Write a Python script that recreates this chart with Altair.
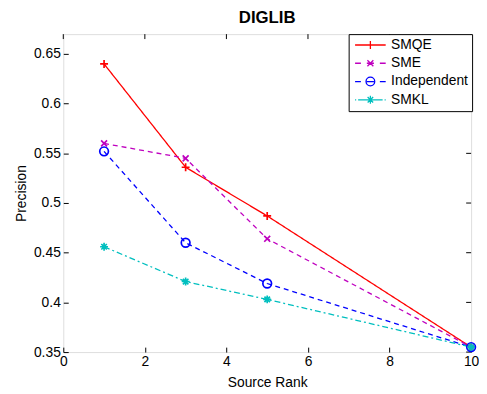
import altair as alt
import pandas as pd

ranks = [1, 3, 5, 10]
series_names = ["SMQE", "SME", "Independent", "SMKL"]
smqe = [0.640, 0.536, 0.487, 0.355]
sme = [0.560, 0.545, 0.464, 0.355]
independent = [0.552, 0.460, 0.419, 0.355]
smkl = [0.456, 0.421, 0.403, 0.355]
x_ticks = [0, 2, 4, 6, 8, 10]
y_ticks = [0.35, 0.4, 0.45, 0.5, 0.55, 0.6, 0.65]

colors = ["#FF0000", "#BF00BF", "#0000FF", "#00BFBF"]
dashes = [[1, 0], [5, 4], [5, 4], [6, 3, 2, 3]]

# marker glyphs (unit coordinates, scaled by the symbol size)
PLUS = "M-1,0H1M0,-1V1"
XMARK = "M-0.75,-0.75L0.75,0.75M-0.75,0.75L0.75,-0.75"
CIRC = "M1.1,0A1.1,1.1 0 1,1 -1.1,0A1.1,1.1 0 1,1 1.1,0Z"
STAR = "M-1,0H1M0,-1V1M-0.7,-0.7L0.7,0.7M-0.7,0.7L0.7,-0.7"
shapes = [PLUS, XMARK, CIRC, STAR]

# legend glyphs: line sample (solid / dashed / dash-dot) with the marker
L = 3.875
legend_glyphs = [
    f"M-{L},0H{L}" + PLUS,
    f"M-{L},0H-2.4M-0.9,0H0.9M2.4,0H{L}" + XMARK,
    f"M-{L},0H-2.4M-0.9,0H0.9M2.4,0H{L}" + CIRC,
    f"M-{L},0H-3.6M-3.1,0H-1.0M1.0,0H3.1M3.6,0H{L}" + STAR,
]

rows = []
for name, vals in zip(series_names, [smqe, sme, independent, smkl]):
    for r, v in zip(ranks, vals):
        rows.append({"rank": r, "precision": v, "series": name, "entry": name})
df = pd.DataFrame(rows)

W, H = 413, 322
font = "Liberation Sans"
FS = 14

xscale = alt.Scale(domain=[0, 10], nice=False, zero=False)
yscale = alt.Scale(domain=[0.35, 0.67], nice=False, zero=False)

x_axis = alt.Axis(values=x_ticks, title="Source Rank", grid=False, domain=False,
                  tickSize=5, offset=-5, labelPadding=3, tickColor="black",
                  labelColor="black", titleColor="black", labelFont=font, titleFont=font,
                  labelFontSize=FS, titleFontSize=FS, titleFontWeight="normal",
                  titlePadding=7, labelFlush=False, format="d")
y_axis = alt.Axis(values=y_ticks, title="Precision", grid=False, domain=False,
                  tickSize=5, offset=-5, labelPadding=3, tickColor="black",
                  labelColor="black", titleColor="black", labelFont=font, titleFont=font,
                  labelFontSize=FS, titleFontSize=FS, titleFontWeight="normal",
                  titlePadding=5, labelFlush=False, labelExpr="format(datum.value, '.2~f')")

color_scale = alt.Scale(domain=series_names, range=colors)
dash_scale = alt.Scale(domain=series_names, range=dashes)
shape_scale = alt.Scale(domain=series_names, range=shapes)
legend_shape_scale = alt.Scale(domain=series_names, range=legend_glyphs)

legend = alt.Legend(title=None, orient="none", legendX=W - 124, legendY=0,
                    strokeColor="black", fillColor="white", padding=4,
                    labelFont=font, labelFontSize=FS, labelColor="black",
                    symbolSize=64, symbolStrokeWidth=1.3,
                    symbolFillColor="transparent", symbolOpacity=1,
                    symbolOffset=11, labelOffset=14, rowPadding=4.5)

lines = alt.Chart(df).mark_line(strokeWidth=1.3).encode(
    x=alt.X("rank:Q", scale=xscale, axis=x_axis),
    y=alt.Y("precision:Q", scale=yscale, axis=y_axis),
    color=alt.Color("series:N", scale=color_scale, legend=None),
    strokeDash=alt.StrokeDash("series:N", scale=dash_scale, legend=None),
    detail="series:N",
)

points = alt.Chart(df).mark_point(filled=False, strokeWidth=1.7, size=64, opacity=1).encode(
    x=alt.X("rank:Q", scale=xscale),
    y=alt.Y("precision:Q", scale=yscale),
    color=alt.Color("series:N", scale=color_scale, legend=None),
    shape=alt.Shape("series:N", scale=shape_scale, legend=None),
)

legend_layer = alt.Chart(df).transform_filter("datum.rank < 0").mark_point(
    filled=False, strokeWidth=1.3, size=64, opacity=1
).encode(
    x=alt.X("rank:Q", scale=xscale),
    y=alt.Y("precision:Q", scale=yscale),
    color=alt.Color("entry:N", scale=color_scale, legend=legend, sort=series_names),
    shape=alt.Shape("entry:N", scale=legend_shape_scale, legend=legend, sort=series_names),
)

tick_df = pd.DataFrame({"v": x_ticks})
top_ticks = alt.Chart(tick_df).mark_rule(color="black").encode(
    x=alt.X("v:Q", scale=xscale), y=alt.value(0), y2=alt.value(5))
ytick_df = pd.DataFrame({"v": y_ticks})
right_ticks = alt.Chart(ytick_df).mark_rule(color="black").encode(
    y=alt.Y("v:Q", scale=yscale), x=alt.value(W), x2=alt.value(W - 5))

chart = alt.layer(top_ticks, right_ticks, lines, points, legend_layer).resolve_scale(
    color="independent", shape="independent"
).properties(
    width=W, height=H,
    title=alt.TitleParams("DIGLIB", font=font, fontSize=17, fontWeight="bold",
                          color="black", offset=7, anchor="middle"),
    autosize=alt.AutoSizeParams(type="none"),
    padding={"left": 56, "top": 24, "right": 8, "bottom": 40},
).configure_view(stroke="black", strokeWidth=1.2).configure(background="white")

chart.save("out.html", embed_options={"renderer": "svg", "actions": False})
